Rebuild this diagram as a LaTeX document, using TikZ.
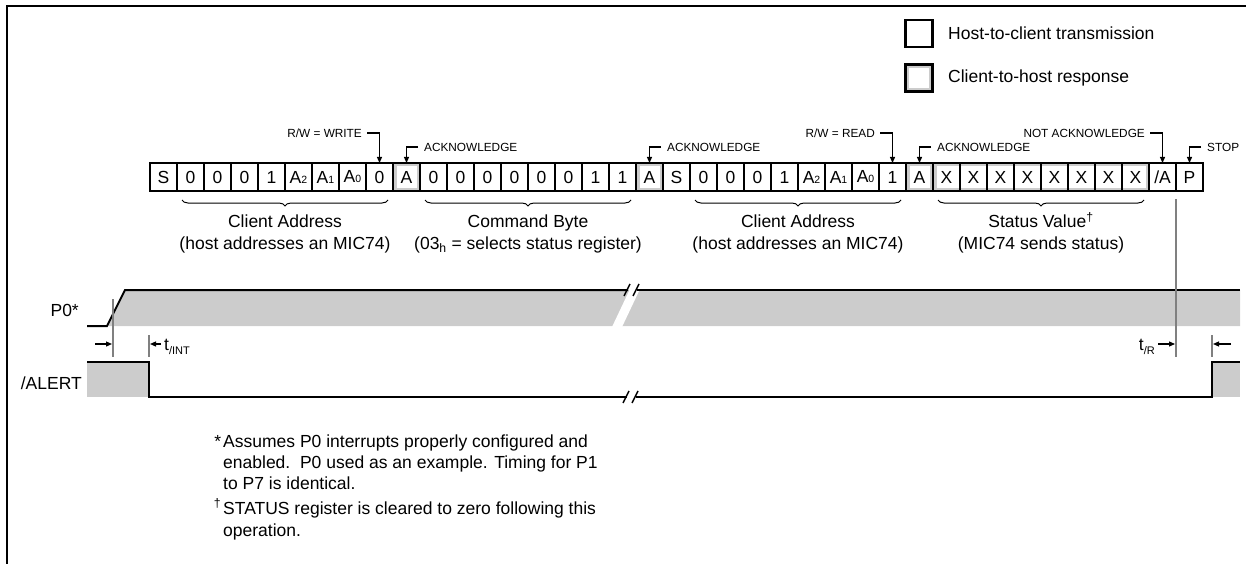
\documentclass[tikz,border=0pt]{standalone}
\usepackage{fontspec}
\setmainfont{Liberation Sans}
\usetikzlibrary{arrows.meta,decorations.pathreplacing,calc}
\definecolor{lgray}{HTML}{CCCCCC}
\definecolor{mgray}{HTML}{808080}
\newcommand\bsub[1]{{\fontsize{10.5}{10.5}\selectfont #1}}
\begin{document}
\begin{tikzpicture}[x=1pt,y=-1pt,
  txt/.style={font=\fontsize{17.5}{21}\selectfont, inner sep=0pt},
  lbl/.style={font=\fontsize{11.8}{14}\selectfont, inner sep=0pt},
  bit/.style={minimum width=27pt, minimum height=28pt, inner sep=0pt, outer sep=0pt, font=\fontsize{17.5}{17.5}\selectfont},
  lead/.style={line width=1.1pt, -{Triangle[length=6pt,width=5pt]}},
  wave/.style={line width=2pt},
  brk/.style={line width=1.5pt},
  tickline/.style={line width=1.2pt, mgray},
  tarrow/.style={line width=1.2pt, -{Triangle[length=6pt,width=5pt]}},
  ubrace/.style={decorate, decoration={brace, mirror, amplitude=6pt}, line width=1pt},
  legbox/.style={draw, line width=2.2pt, minimum width=27pt, minimum height=27pt, inner sep=0pt},
]
\useasboundingbox (0,0) rectangle (1246,564);

% frame
\draw[line width=2pt] (7,564) -- (7,6) -- (1246,6);

% legend
\node[legbox] (lg1) at (919,33.5) {};
\node[legbox, fill=lgray] (lg2) at (919,78) {};
\fill[white] ([shift={(4.5,4.5)}]lg2.north west) rectangle ([shift={(-4.5,-4.5)}]lg2.south east);
\node[txt, anchor=west] (lt1) at (948,33.5) {Host-to-client transmission};
\node[txt, anchor=west] (lt2) at (948,78) {Client-to-host response};

% gray response cells
\foreach \a/\b in {393/420, 636/663, 906/933, 933/1149} {
  \fill[lgray] (\a,163) rectangle (\b,191);
  \fill[white] (\a+3.5,166.5) rectangle (\b-3.5,187.5);
}

% bit cells
\foreach \t [count=\n from 0] in {S,0,0,0,1,{A\bsub{2}},{A\bsub{1}},{A\bsub{0}},0,A,
  0,0,0,0,0,0,1,1,A,S,0,0,0,1,{A\bsub{2}},{A\bsub{1}},{A\bsub{0}},1,A,
  X,X,X,X,X,X,X,X,/A,P}
  \node[bit] (c\n) at ({163.5+27*\n},177) {\t};

\foreach \n in {0,...,37}
  \draw[line width=1.1pt] (c\n.north east) -- (c\n.south east);
\draw[line width=2pt] (c0.north west) rectangle (c38.south east);

% labels with leaders
\node[lbl, anchor=east] (rww) at (362,133) {R/W = WRITE};
\draw[lead] ([xshift=5pt]rww.east) -| (c8.north);
\node[lbl, anchor=west] (ack1) at (424,147) {ACKNOWLEDGE};
\draw[lead] ([xshift=-6pt]ack1.west) -| (c9.north);
\node[lbl, anchor=west] (ack2) at (667,147) {ACKNOWLEDGE};
\draw[lead] ([xshift=-6pt]ack2.west) -| (c18.north);
\node[lbl, anchor=east] (rwr) at (875,133) {R/W = READ};
\draw[lead] ([xshift=5pt]rwr.east) -| (c27.north);
\node[lbl, anchor=west] (ack3) at (937,147) {ACKNOWLEDGE};
\draw[lead] ([xshift=-6pt]ack3.west) -| (c28.north);
\node[lbl, anchor=east] (nack) at (1145,133) {NOT ACKNOWLEDGE};
\draw[lead] ([xshift=5pt]nack.east) -| (c37.north);
\node[lbl, anchor=west] (stop) at (1207,147) {STOP};
\draw[lead] ([xshift=-6pt]stop.west) -| (c38.north);

% braces
\draw[ubrace] ($(c1.south west)+(5,9)$) -- ($(c8.south east)+(-5,9)$);
\draw[ubrace] ($(c10.south west)+(5,9)$) -- ($(c17.south east)+(-5,9)$);
\draw[ubrace] ($(c20.south west)+(5,9)$) -- ($(c27.south east)+(-5,9)$);
\draw[ubrace] ($(c29.south west)+(5,9)$) -- ($(c36.south east)+(-5,9)$);

\node[txt, anchor=base] (b1a) at (285,227.5) {Client Address};
\node[txt, anchor=base] (b1b) at (285,249.5) {(host addresses an MIC74)};
\node[txt, anchor=base] (b2a) at (528,227.5) {Command Byte};
\node[txt, anchor=base] (b2b) at (528,249.5) {(03\textsubscript{h} = selects status register)};
\node[txt, anchor=base] (b3a) at (798,227.5) {Client Address};
\node[txt, anchor=base] (b3b) at (798,249.5) {(host addresses an MIC74)};
\node[txt, anchor=base] (b4a) at (1041,227.5) {Status Value\textsuperscript{†}};
\node[txt, anchor=base] (b4b) at (1041,249.5) {(MIC74 sends status)};

% P0 waveform
\fill[lgray] (107,326) -- (125,290) -- (1240,290) -- (1240,326) -- cycle;
\fill[white] (612,327) -- (622,327) -- (640,289) -- (630,289) -- cycle;
\draw[wave] (87,326) -- (107,326) -- (125,290) -- (628,290);
\draw[wave] (637,290) -- (1240,290);
\draw[brk] (624,296) -- (630,284);
\draw[brk] (633,296) -- (639,284);
\node[txt, anchor=east] (p0) at (79,310) {P0*};

% /ALERT waveform
\fill[lgray] (87,362) rectangle (149,397);
\fill[lgray] (1212,362) rectangle (1240,397);
\draw[wave] (87,362) -- (149,362) -- (149,397) -- (627,397);
\draw[wave] (636,397) -- (1212,397) -- (1212,362) -- (1240,362);
\draw[brk] (623,403) -- (629,391);
\draw[brk] (632,403) -- (638,391);
\node[txt, anchor=east] (alert) at (82,383) {/ALERT};

% timing markers
\draw[tickline] (113,299) -- (113,357);
\draw[tickline] (149,335) -- (149,357);
\draw[tickline] ($(c37.south east)+(0,8)$) -- (1176,357);
\draw[tickline] (1212,335) -- (1212,357);
\draw[tarrow] (95,344) -- (112,344);
\draw[tarrow] (161,344) -- (150,344);
\draw[tarrow] (1158,344) -- (1175,344);
\draw[tarrow] (1231,344) -- (1213,344);
\node[txt, anchor=base west] (tint) at (164,350) {t\raisebox{-4pt}{\fontsize{11}{11}\selectfont /INT}};
\node[txt, anchor=base east] (tr) at (1155,350) {t\raisebox{-4pt}{\fontsize{11}{11}\selectfont /R}};

% footnotes
\node[txt, anchor=base east] (fs1) at (221.5,447) {*};
\node[txt, anchor=base west] (f1) at (223,447) {Assumes P0 interrupts properly configured and};
\node[txt, anchor=base west] (f2) at (223,468) {enabled.\ \ P0 used as an example. Timing for P1};
\node[txt, anchor=base west] (f3) at (223,489) {to P7 is identical.};
\node[txt, anchor=base east] (fs2) at (221.5,514) {\textsuperscript{†}};
\node[txt, anchor=base west] (f4) at (223,514) {STATUS register is cleared to zero following this};
\node[txt, anchor=base west] (f5) at (223,536) {operation.};
\end{tikzpicture}
\end{document}
